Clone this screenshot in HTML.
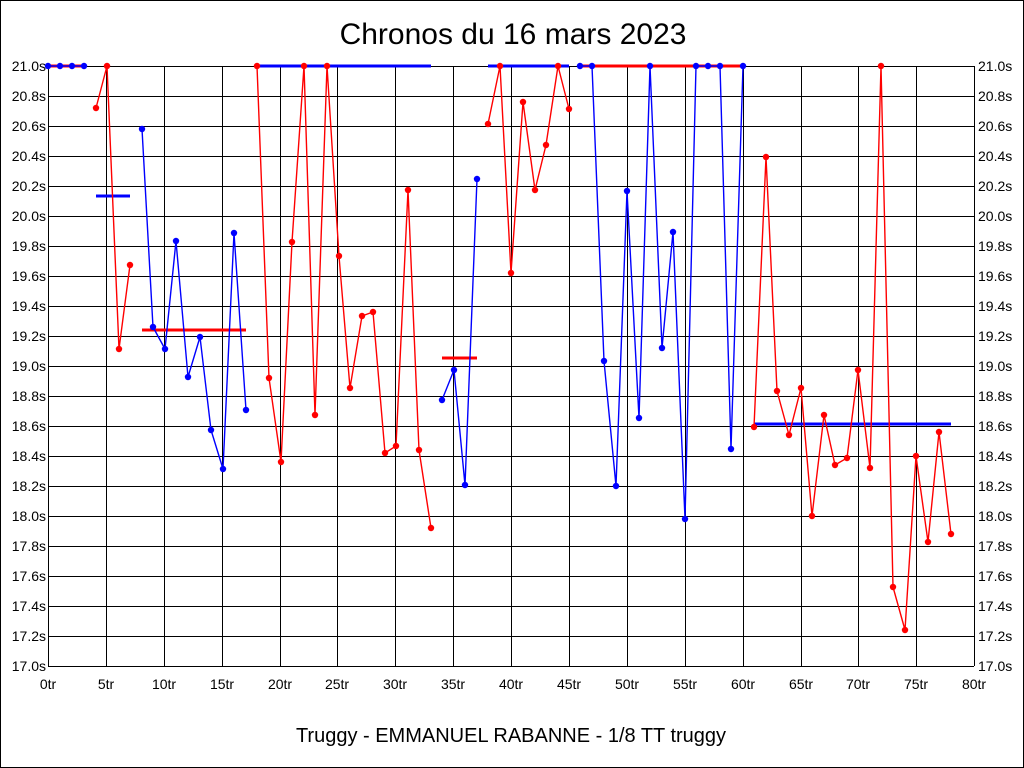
<!DOCTYPE html>
<html><head><meta charset="utf-8"><style>html,body{margin:0;padding:0;background:#fff}svg{display:block}</style></head><body>
<svg width="1024" height="768" xmlns="http://www.w3.org/2000/svg" font-family="Liberation Sans, sans-serif">
<rect x="0.5" y="0.5" width="1023" height="767" fill="#fff" stroke="#000"/>
<text x="513" y="44" font-size="30" text-anchor="middle">Chronos du 16 mars 2023</text>
<text x="511" y="742" font-size="20" text-anchor="middle">Truggy - EMMANUEL RABANNE - 1/8 TT truggy</text>
<g stroke="#000" stroke-width="1">
<path d="M48 66.5H974M48 96.5H974M48 126.5H974M48 156.5H974M48 186.5H974M48 216.5H974M48 246.5H974M48 276.5H974M48 306.5H974M48 336.5H974M48 366.5H974M48 396.5H974M48 426.5H974M48 456.5H974M48 486.5H974M48 516.5H974M48 546.5H974M48 576.5H974M48 606.5H974M48 636.5H974M48 666.5H974"/>
<path d="M48.5 66V666M106.5 66V666M164.5 66V666M222.5 66V666M280.5 66V666M337.5 66V666M395.5 66V666M453.5 66V666M511.5 66V666M569.5 66V666M627.5 66V666M685.5 66V666M743.5 66V666M801.5 66V666M858.5 66V666M916.5 66V666M974.5 66V666"/>
</g>
<g font-size="14" text-anchor="end">
<text x="46" y="71">21.0s</text><text x="46" y="101">20.8s</text><text x="46" y="131">20.6s</text><text x="46" y="161">20.4s</text><text x="46" y="191">20.2s</text><text x="46" y="221">20.0s</text><text x="46" y="251">19.8s</text><text x="46" y="281">19.6s</text><text x="46" y="311">19.4s</text><text x="46" y="341">19.2s</text><text x="46" y="371">19.0s</text><text x="46" y="401">18.8s</text><text x="46" y="431">18.6s</text><text x="46" y="461">18.4s</text><text x="46" y="491">18.2s</text><text x="46" y="521">18.0s</text><text x="46" y="551">17.8s</text><text x="46" y="581">17.6s</text><text x="46" y="611">17.4s</text><text x="46" y="641">17.2s</text><text x="46" y="671">17.0s</text>
</g>
<g font-size="14" text-anchor="start">
<text x="978" y="71">21.0s</text><text x="978" y="101">20.8s</text><text x="978" y="131">20.6s</text><text x="978" y="161">20.4s</text><text x="978" y="191">20.2s</text><text x="978" y="221">20.0s</text><text x="978" y="251">19.8s</text><text x="978" y="281">19.6s</text><text x="978" y="311">19.4s</text><text x="978" y="341">19.2s</text><text x="978" y="371">19.0s</text><text x="978" y="401">18.8s</text><text x="978" y="431">18.6s</text><text x="978" y="461">18.4s</text><text x="978" y="491">18.2s</text><text x="978" y="521">18.0s</text><text x="978" y="551">17.8s</text><text x="978" y="581">17.6s</text><text x="978" y="611">17.4s</text><text x="978" y="641">17.2s</text><text x="978" y="671">17.0s</text>
</g>
<g font-size="14" text-anchor="middle">
<text x="48" y="689">0tr</text><text x="106" y="689">5tr</text><text x="164" y="689">10tr</text><text x="222" y="689">15tr</text><text x="280" y="689">20tr</text><text x="337" y="689">25tr</text><text x="395" y="689">30tr</text><text x="453" y="689">35tr</text><text x="511" y="689">40tr</text><text x="569" y="689">45tr</text><text x="627" y="689">50tr</text><text x="685" y="689">55tr</text><text x="743" y="689">60tr</text><text x="801" y="689">65tr</text><text x="858" y="689">70tr</text><text x="916" y="689">75tr</text><text x="974" y="689">80tr</text>
</g>
<g stroke-width="3">
<path d="M48 66H85" stroke="#f00"/>
<path d="M96 196H130" stroke="#00f"/>
<path d="M142 330H246" stroke="#f00"/>
<path d="M257 66H431" stroke="#00f"/>
<path d="M442 358H477" stroke="#f00"/>
<path d="M488 66H569" stroke="#00f"/>
<path d="M580 66H743" stroke="#f00"/>
<path d="M754 424H951" stroke="#00f"/>
</g>
<g fill="none" stroke-width="1.4">
<polyline stroke="#00f" points="48,66 60,66 72,66 84,66"/>
<polyline stroke="#f00" points="96,108 107,66 119,349 130,265"/>
<polyline stroke="#00f" points="142,129 153,327 165,349 176,241 188,377 200,337 211,430 223,469 234,233 246,410"/>
<polyline stroke="#f00" points="257,66 269,378 281,462 292,242 304,66 315,415 327,66 339,256 350,388 362,316 373,312 385,453 396,446 408,190 419,450 431,528"/>
<polyline stroke="#00f" points="442,400 454,370 465,485 477,179"/>
<polyline stroke="#f00" points="488,124 500,66 511,273 523,102 535,190 546,145 558,66 569,109"/>
<polyline stroke="#00f" points="580,66 592,66 604,361 616,486 627,191 639,418 650,66 662,348 673,232 685,519 696,66 708,66 720,66 731,449 743,66"/>
<polyline stroke="#f00" points="754,427 766,157 777,391 789,435 801,388 812,516 824,415 835,465 847,458 858,370 870,468 881,66 893,587 905,630 916,456 928,542 939,432 951,534"/>
</g>
<g fill="#00f">
<circle cx="48" cy="66" r="3.2"/><circle cx="60" cy="66" r="3.2"/><circle cx="72" cy="66" r="3.2"/><circle cx="84" cy="66" r="3.2"/>
<circle cx="142" cy="129" r="3.2"/><circle cx="153" cy="327" r="3.2"/><circle cx="165" cy="349" r="3.2"/><circle cx="176" cy="241" r="3.2"/><circle cx="188" cy="377" r="3.2"/><circle cx="200" cy="337" r="3.2"/><circle cx="211" cy="430" r="3.2"/><circle cx="223" cy="469" r="3.2"/><circle cx="234" cy="233" r="3.2"/><circle cx="246" cy="410" r="3.2"/>
<circle cx="442" cy="400" r="3.2"/><circle cx="454" cy="370" r="3.2"/><circle cx="465" cy="485" r="3.2"/><circle cx="477" cy="179" r="3.2"/>
<circle cx="580" cy="66" r="3.2"/><circle cx="592" cy="66" r="3.2"/><circle cx="604" cy="361" r="3.2"/><circle cx="616" cy="486" r="3.2"/><circle cx="627" cy="191" r="3.2"/><circle cx="639" cy="418" r="3.2"/><circle cx="650" cy="66" r="3.2"/><circle cx="662" cy="348" r="3.2"/><circle cx="673" cy="232" r="3.2"/><circle cx="685" cy="519" r="3.2"/><circle cx="696" cy="66" r="3.2"/><circle cx="708" cy="66" r="3.2"/><circle cx="720" cy="66" r="3.2"/><circle cx="731" cy="449" r="3.2"/><circle cx="743" cy="66" r="3.2"/>
</g>
<g fill="#f00">
<circle cx="96" cy="108" r="3.2"/><circle cx="107" cy="66" r="3.2"/><circle cx="119" cy="349" r="3.2"/><circle cx="130" cy="265" r="3.2"/>
<circle cx="257" cy="66" r="3.2"/><circle cx="269" cy="378" r="3.2"/><circle cx="281" cy="462" r="3.2"/><circle cx="292" cy="242" r="3.2"/><circle cx="304" cy="66" r="3.2"/><circle cx="315" cy="415" r="3.2"/><circle cx="327" cy="66" r="3.2"/><circle cx="339" cy="256" r="3.2"/><circle cx="350" cy="388" r="3.2"/><circle cx="362" cy="316" r="3.2"/><circle cx="373" cy="312" r="3.2"/><circle cx="385" cy="453" r="3.2"/><circle cx="396" cy="446" r="3.2"/><circle cx="408" cy="190" r="3.2"/><circle cx="419" cy="450" r="3.2"/><circle cx="431" cy="528" r="3.2"/>
<circle cx="488" cy="124" r="3.2"/><circle cx="500" cy="66" r="3.2"/><circle cx="511" cy="273" r="3.2"/><circle cx="523" cy="102" r="3.2"/><circle cx="535" cy="190" r="3.2"/><circle cx="546" cy="145" r="3.2"/><circle cx="558" cy="66" r="3.2"/><circle cx="569" cy="109" r="3.2"/>
<circle cx="754" cy="427" r="3.2"/><circle cx="766" cy="157" r="3.2"/><circle cx="777" cy="391" r="3.2"/><circle cx="789" cy="435" r="3.2"/><circle cx="801" cy="388" r="3.2"/><circle cx="812" cy="516" r="3.2"/><circle cx="824" cy="415" r="3.2"/><circle cx="835" cy="465" r="3.2"/><circle cx="847" cy="458" r="3.2"/><circle cx="858" cy="370" r="3.2"/><circle cx="870" cy="468" r="3.2"/><circle cx="881" cy="66" r="3.2"/><circle cx="893" cy="587" r="3.2"/><circle cx="905" cy="630" r="3.2"/><circle cx="916" cy="456" r="3.2"/><circle cx="928" cy="542" r="3.2"/><circle cx="939" cy="432" r="3.2"/><circle cx="951" cy="534" r="3.2"/>
</g>
</svg>
</body></html>
